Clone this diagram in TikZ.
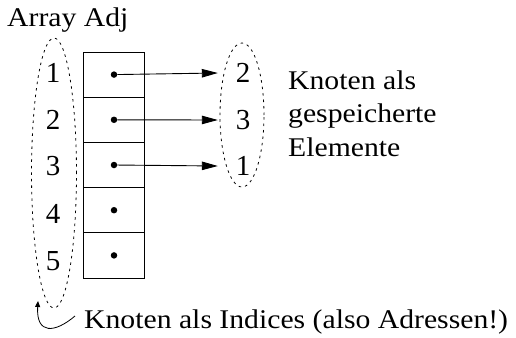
\documentclass[tikz,border=0pt]{standalone}
\usepackage{fontspec}
\setmainfont{Liberation Serif}
\usetikzlibrary{arrows.meta,shapes.geometric}
\newcommand{\wide}[1]{\scalebox{1.1}[1]{#1}}
\begin{document}
\begin{tikzpicture}[x=1pt,y=-1pt,
  cell/.style={draw,line width=0.9pt,minimum width=61pt,minimum height=45.2pt,inner sep=0pt,outer sep=0pt},
  dotm/.style={circle,fill,inner sep=0pt,minimum size=6.5pt},
  digit/.style={font=\fontsize{29}{34}\selectfont,inner sep=0pt},
  rdigit/.style={digit,minimum width=50pt},
  lbl/.style={font=\fontsize{27}{33.5}\selectfont,inner sep=0pt},
  oval/.style={draw,ellipse,line width=0.8pt,dash pattern=on 2.5pt off 4pt,inner sep=0pt},
  ptr/.style={line width=0.9pt,-{Triangle[length=16pt,width=8.5pt]}}]
\useasboundingbox (0,0) rectangle (516,337);
% title
\node[lbl,anchor=base west] (title) at (7,27) {\wide{Array Adj}};
% cells
\foreach \i/\y in {1/74.6,2/119.8,3/165,4/210.2,5/255.4}{
  \node[cell] (c\i) at (113.5,\y) {};
  \node[dotm] (d\i) at (114,\y) {};
}
% left indices
\node[digit] (l1) at (53,73) {1};
\node[digit] (l2) at (53,120) {2};
\node[digit] (l3) at (53,166) {3};
\node[digit] (l4) at (53,214) {4};
\node[digit] (l5) at (53,261) {5};
\node[oval,minimum width=45pt,minimum height=270pt] (lov) at (54,173) {};
% right elements
\node[rdigit] (r1) at (243,73) {2};
\node[rdigit] (r2) at (243,120) {3};
\node[rdigit] (r3) at (243,166) {1};
\node[oval,minimum width=44pt,minimum height=144pt] (rov) at (242,115) {};
\draw[ptr] (d1) -- (r1.west);
\draw[ptr] (d2) -- (r2.west);
\draw[ptr] (d3) -- (r3.west);
% right label
\node[lbl,anchor=base west,align=left] (rl) at (288,156) {\wide{Knoten als}\\\wide{gespeicherte}\\\wide{Elemente}};
% bottom label
\node[lbl,anchor=base west] (bl) at (84,328) {\wide{Knoten als Indices (also Adressen!)}};
\coordinate (cstart) at (75,316);
\coordinate (tipc) at (38,301);
\draw[line width=0.8pt,-{Triangle[length=6pt,width=5pt]}] (cstart) .. controls (55,333) and (36,335) .. (tipc);
\end{tikzpicture}
\end{document}
